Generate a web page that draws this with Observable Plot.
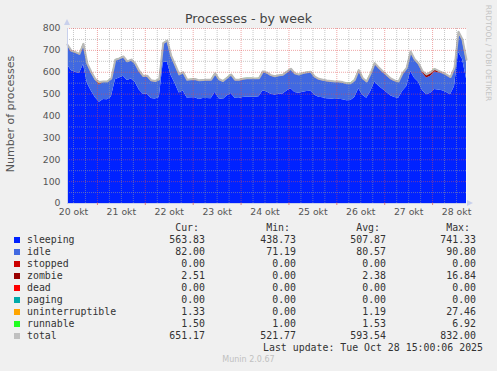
<!DOCTYPE html>
<html><head><meta charset="utf-8">
<script src="https://cdn.jsdelivr.net/npm/d3@7"></script>
<script src="https://cdn.jsdelivr.net/npm/@observablehq/plot@0.6"></script>
<style>
html,body{margin:0;padding:0;background:#f0f0f0;}
#wrap{position:relative;width:497px;height:371px;overflow:hidden;font-family:"DejaVu Sans",sans-serif;background:#f0f0f0;}
#chart{position:absolute;left:0;top:0;}
.title{position:absolute;left:0;width:497px;top:11px;line-height:16px;text-align:center;font-size:12.6px;color:#444;}
.ylab{position:absolute;left:-89px;top:107px;width:200px;height:14px;line-height:14px;text-align:center;font-size:11px;color:#555;transform:rotate(-90deg);}
.rrd{position:absolute;left:438px;top:48px;width:100px;height:10px;line-height:10px;text-align:center;font-size:7.5px;color:#c4c4c4;transform:rotate(90deg);white-space:nowrap;}
.lg{position:absolute;font-family:"DejaVu Sans Mono",monospace;font-size:9.9px;line-height:12px;color:#333;white-space:pre;}
.sq{position:absolute;width:6px;height:6px;}
.munin{position:absolute;left:0;width:497px;top:354px;line-height:12px;text-align:center;font-size:8px;color:#c0c0c0;}
</style>
</head><body>
<div id="wrap">
  <div id="chart"></div>
  <div class="title">Processes - by week</div>
  <div class="ylab">Number of processes</div>
  <div class="rrd">RRDTOOL / TOBI OETIKER</div>
  <div id="legend"></div>
  <div class="munin">Munin 2.0.67</div>
</div>
<script>
// ---- data (2-hourly samples from 20 okt 09:00 UTC to 28 okt 17:00 UTC) ----
const startTime = Date.UTC(2025, 9, 20, 9);
const endTime = Date.UTC(2025, 9, 28, 17);
const stepHours = 2;

const sleeping = [633,607,600,594,635,549,513,483,463,475,474,487,566,574,582,562,569,553,519,499,
  499,480,478,485,643,648,584,547,505,514,482,483,483,476,480,480,479,509,479,475,
  491,503,481,480,485,487,486,486,488,515,510,500,496,499,501,514,525,508,504,509,
  512,513,495,486,483,479,478,476,477,474,470,471,485,525,495,481,512,555,537,522,
  508,493,485,481,513,534,604,573,554,516,497,504,521,519,515,507,497,535,692,659,570];
const idle = [88,86,87,85,90,84,82,80,79,78,79,80,86,84,85,83,84,82,80,79,
  80,78,77,78,85,90,86,82,80,81,79,80,81,82,80,81,82,81,84,80,
  79,82,80,81,80,81,82,81,80,84,83,82,81,82,83,84,86,82,81,82,
  83,84,80,79,78,78,77,77,76,76,75,74,75,80,73,72,78,82,80,78,
  76,74,73,72,78,80,86,82,81,79,77,78,80,79,78,77,76,80,88,86,82];
const zombie = [3,3,3,3,3,3,2,2,4,2,2,2,2,2,2,2,2,2,5,2,
  2,2,2,2,2,4,2,2,2,2,2,2,3,2,2,2,2,3,2,2,
  2,2,2,2,2,2,2,2,2,2,2,2,2,2,2,2,2,2,2,2,
  2,2,2,2,2,2,2,2,2,2,3,3,3,3,3,3,3,3,3,3,
  2,2,2,2,2,2,2,2,2,8,14,16,12,6,3,3,3,3,3,3,2.5];
const uninterruptible = [1,1,1,1,1,1,1,1,10,1,1,1,1,1,1,1,1,1,1,1,
  1,1,1,1,1,1,1,1,1,1,1,1,1,1,1,1,1,1,1,1,
  1,1,1,1,3,1,1,1,1,1,1,1,1,1,1,1,1,1,1,1,
  1,1,1,1,1,1,1,1,1,1,1,1,1,1,1,1,1,1,1,1,
  1,1,1,1,1,1,1,1,1,1,1,1,1,1,1,1,1,1,2,2,1.3];
const runnable = [1.5,1.5,2,1.5,1.5,1.5,1.5,1,1.5,1.5,1.5,1.5,2,1.5,1.5,1.5,1.5,1.5,1.5,1.5,
  1.5,1.5,1.5,1.5,2,2,1.5,1.5,1.5,1.5,1.5,1.5,1.5,1.5,1.5,1.5,1.5,1.5,1.5,1.5,
  1.5,1.5,1.5,1.5,1.5,1.5,1.5,1.5,1.5,1.5,1.5,1.5,1.5,1.5,1.5,1.5,1.5,1.5,1.5,1.5,
  1.5,1.5,1.5,1.5,1.5,1.5,1.5,1.5,1.5,1.5,1.5,1.5,1.5,1.5,1.5,1.5,1.5,2,1.5,1.5,
  1.5,1.5,1.5,1.5,1.5,1.5,2,1.5,1.5,1.5,1.5,1.5,1.5,1.5,1.5,1.5,1.5,1.5,2,2,1.5];
const total = [726,698,692,684,730,638,600,568,555,558,558,572,657,663,672,650,658,640,606,583,
  584,563,560,568,733,745,675,634,590,600,566,568,569,563,565,566,566,595,568,560,
  575,590,566,566,570,573,573,572,573,604,598,587,582,586,589,603,616,595,590,596,
  600,602,580,570,566,562,560,558,558,555,550,550,565,610,573,558,595,642,622,605,
  589,572,563,558,596,619,695,660,640,605,590,600,615,606,598,589,578,620,785,750,657];

const seriesNames = ["sleeping","idle","stopped","zombie","dead","paging","uninterruptible","runnable","total"];
const seriesColors = ["#0022ff","#4169e1","#cc0000","#990000","#ff0000","#00aaaa","#ffa500","#22ff22","#c0c0c0"];
const curVals = ["563.83","82.00","0.00","2.51","0.00","0.00","1.33","1.50","651.17"];
const minVals = ["438.73","71.19","0.00","0.00","0.00","0.00","0.00","1.00","521.77"];
const avgVals = ["507.87","80.57","0.00","2.38","0.00","0.00","1.19","1.53","593.54"];
const maxVals = ["741.33","90.80","0.00","16.84","0.00","0.00","27.46","6.92","832.00"];
const dayLabel = "okt";
const yTicks = [0,100,200,300,400,500,600,700,800];
const lastUpdate = "Last update: Tue Oct 28 15:00:06 2025";

// ---- build ----
const times = sleeping.map((_, i) => new Date(startTime + i * stepHours * 3600e3));
const stacked = {sleeping, idle, zombie, uninterruptible, runnable};
const stackOrder = ["sleeping","idle","zombie","uninterruptible","runnable"];
const long = stackOrder.flatMap(name => stacked[name].map((v, i) => ({time: times[i], series: name, value: v})));
const totalData = total.map((v, i) => ({time: times[i], value: v}));

const x0 = new Date(startTime), x1 = new Date(endTime);
const midnights = d3.utcDay.range(x0, x1);
const sixHours = d3.utcHour.every(6).range(x0, x1).filter(d => d.getUTCHours() !== 0);
const noons = d3.utcDay.range(new Date(Date.UTC(2025,9,20)), x1).map(d => new Date(+d + 12 * 3600e3)).filter(d => d >= x0 && d <= x1);
const minorY = d3.range(50, 800, 100);
const majorY = yTicks.slice(1);

const plot = Plot.plot({
  width: 497,
  height: 222,
  marginLeft: 67,
  marginRight: 31,
  marginTop: 28,
  marginBottom: 19,
  style: {background: "transparent", fontFamily: "DejaVu Sans", fontSize: "9.3px", color: "#555"},
  x: {type: "utc", domain: [x0, x1]},
  y: {domain: [0, 800]},
  color: {domain: seriesNames, range: seriesColors},
  marks: [
    Plot.frame({fill: "white", stroke: null}),
    Plot.areaY(long, {x: "time", y: "value", fill: "series", order: stackOrder, curve: "linear"}),
    Plot.lineY(totalData, {x: "time", y: "value", stroke: "#b8b8b8", strokeWidth: 2, curve: "linear"}),
    Plot.ruleY(minorY, {stroke: "#9a9a9a", strokeOpacity: 0.55, strokeDasharray: "1,1"}),
    Plot.ruleX(sixHours, {stroke: "#9a9a9a", strokeOpacity: 0.55, strokeDasharray: "1,1"}),
    Plot.ruleY(majorY, {stroke: "#e05050", strokeOpacity: 0.5, strokeDasharray: "1,1"}),
    Plot.ruleX(midnights, {stroke: "#e05050", strokeOpacity: 0.5, strokeDasharray: "1,1"}),
    Plot.ruleY([0], {stroke: "#c8d0ec"}),
    Plot.ruleX([x0], {stroke: "#c8d0ec", y1: 0, y2: 800}),
    Plot.axisY(yTicks, {tickSize: 0, tickPadding: 7, label: null, fill: "#555"}),
    Plot.axisX(noons, {tickSize: 0, tickPadding: 5, label: null, fill: "#555", tickFormat: d => `${d.getUTCDate()} ${dayLabel}`}),
    Plot.axisX(midnights, {tickSize: 2, tickPadding: 0, label: null, stroke: "#e08080", tickFormat: () => ""})
  ]
});
document.getElementById("chart").appendChild(plot);

// axis arrow heads
const sx = plot.scale("x"), sy = plot.scale("y");
const svg = d3.select(plot);
const ax = sx.apply(x0), ay = sy.apply(800);
svg.append("path").attr("d", `M${ax-3},${ay-3}L${ax+3},${ay-3}L${ax},${ay-9}Z`).attr("fill", "#c8d0ec");
const bx = sx.apply(x1), by = sy.apply(0);
svg.append("path").attr("d", `M${bx+1},${by-3}L${bx+1},${by+3}L${bx+7},${by}Z`).attr("fill", "#c8d0ec");

// ---- legend ----
const leg = document.getElementById("legend");
function txt(s, opts) {
  const el = document.createElement("div");
  el.className = "lg";
  el.textContent = s;
  Object.assign(el.style, opts);
  leg.appendChild(el);
}
const headerTop = 222;
[["Cur:",199],["Min:",290],["Avg:",380],["Max:",470]].forEach(([h, r]) => txt(h, {top: headerTop + "px", right: (497 - r) + "px"}));
seriesNames.forEach((name, i) => {
  const top = 234 + i * 12;
  const sq = document.createElement("div");
  sq.className = "sq";
  sq.style.left = "14px";
  sq.style.top = (top + 3) + "px";
  sq.style.background = seriesColors[i];
  leg.appendChild(sq);
  txt(name, {top: top + "px", left: "27px"});
  txt(curVals[i], {top: top + "px", right: (497 - 205) + "px"});
  txt(minVals[i], {top: top + "px", right: (497 - 296) + "px"});
  txt(avgVals[i], {top: top + "px", right: (497 - 386) + "px"});
  txt(maxVals[i], {top: top + "px", right: (497 - 476) + "px"});
});
txt(lastUpdate, {top: (234 + 9 * 12) + "px", right: (497 - 483) + "px"});
</script>
</body></html>
